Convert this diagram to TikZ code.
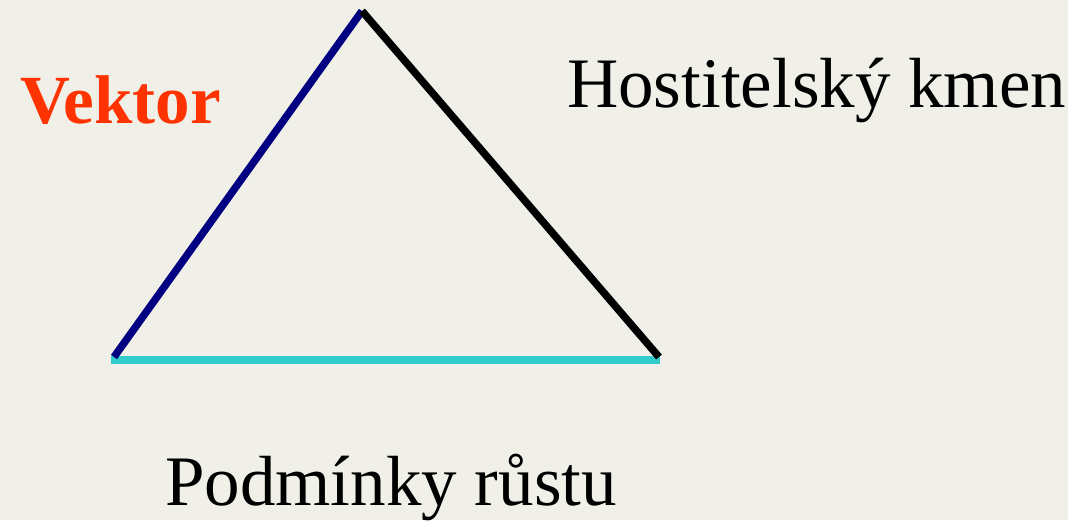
\documentclass[tikz,border=0pt]{standalone}
\usepackage{fontspec}
\setmainfont{Liberation Serif}
\definecolor{bgc}{HTML}{F1F0E8}
\definecolor{navyc}{HTML}{000080}
\definecolor{cyanc}{HTML}{33CCCC}
\definecolor{redc}{HTML}{FF3300}
\begin{document}
\begin{tikzpicture}[x=1pt,y=-1pt,
  lbl/.style={inner sep=0pt,anchor=base west,font=\fontsize{71}{78}\selectfont},
  edge/.style={line width=7.5pt}]
\fill[bgc] (0,0) rectangle (1068,520);
\useasboundingbox (0,0) rectangle (1068,520);
\coordinate (top) at (362,11);
\coordinate (bl) at (114,357);
\coordinate (br) at (659,357);
\coordinate (bbl) at (111,360);
\coordinate (bbr) at (660,360);
\draw[edge,cyanc] (bbl) -- (bbr);
\draw[edge,navyc] (bl) -- (top);
\draw[edge,black] (top) -- (br);
\node[lbl,text=redc,font=\fontsize{69}{76}\selectfont\bfseries] (vek) at (20,123) {Vektor};
\node[lbl] (host) at (567,107) {Hostitelský kmen};
\node[lbl] (pod) at (165,505) {Podmínky růstu};
\end{tikzpicture}
\end{document}
